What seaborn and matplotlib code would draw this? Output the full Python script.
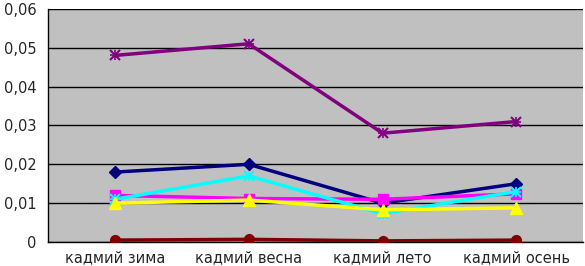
import numpy as np
import pandas as pd
import matplotlib
matplotlib.use("Agg")
import matplotlib.pyplot as plt
import seaborn as sns
from matplotlib.ticker import FuncFormatter, FixedLocator

categories = ["кадмий зима", "кадмий весна", "кадмий лето", "кадмий осень"]
purple_vals = [0.048, 0.051, 0.028, 0.031]
navy_vals = [0.018, 0.020, 0.010, 0.015]
magenta_vals = [0.012, 0.0112, 0.011, 0.0124]
cyan_vals = [0.011, 0.017, 0.0073, 0.013]
yellow_vals = [0.010, 0.0108, 0.0083, 0.0088]
darkred_vals = [0.0005, 0.0007, 0.0003, 0.0005]

series = [
    (purple_vals, "#800080", "x", 7),
    (navy_vals, "#000080", "D", 6),
    (magenta_vals, "#ff00ff", "s", 7),
    (cyan_vals, "#00ffff", "x", 7),
    (yellow_vals, "#ffff00", "^", 8),
    (darkred_vals, "#800000", "o", 7),
]

sns.set_style("white")
plt.rcParams["font.family"] = ["DejaVu Sans"]

fig = plt.figure(figsize=(5.85, 2.66), dpi=100)
ax = fig.add_axes([0.082, 0.09, 0.915, 0.877])
ax.set_facecolor("#c0c0c0")

x = np.arange(len(categories))
for vals, color, marker, ms in series:
    df = pd.DataFrame({"x": x, "y": vals})
    sns.lineplot(data=df, x="x", y="y", ax=ax, color=color, linewidth=2.5,
                 marker=marker, markersize=ms, markeredgecolor=color,
                 markeredgewidth=1.5 if marker == "x" else 1, zorder=3)
    if marker == "x":
        sns.lineplot(data=df, x="x", y="y", ax=ax, color=color, linewidth=0,
                     marker="+", markersize=ms, markeredgecolor=color,
                     markeredgewidth=1.2, zorder=3)

ax.set_xlim(-0.5, 3.5)
ax.set_ylim(0, 0.06)
ax.set_yticks(np.arange(0, 0.061, 0.01))
ax.yaxis.set_major_formatter(FuncFormatter(lambda v, p: "0" if abs(v) < 1e-9 else f"{v:.2f}".replace(".", ",")))
ax.set_xticks(x)
ax.set_xticklabels(categories)
ax.xaxis.set_minor_locator(FixedLocator([-0.5, 0.5, 1.5, 2.5, 3.5]))
ax.tick_params(axis="x", which="major", length=0, labelsize=10.5, pad=6)
ax.tick_params(axis="x", which="minor", length=4, width=1, color="black", direction="out")
ax.tick_params(axis="y", length=5, width=1, color="black", direction="out", labelsize=10.5, pad=3)
ax.set_xlabel("")
ax.set_ylabel("")

ax.grid(axis="y", color="black", linewidth=1)
ax.set_axisbelow(True)
for s in ["top", "right"]:
    ax.spines[s].set_visible(False)
ax.spines["left"].set_color("black")
ax.spines["bottom"].set_color("black")
ax.spines["left"].set_linewidth(1)
ax.spines["bottom"].set_linewidth(1)

fig.savefig("out.png", dpi=100)
